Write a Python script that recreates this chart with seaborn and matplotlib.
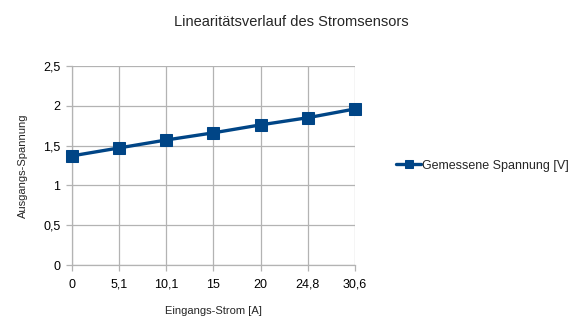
import matplotlib
matplotlib.use("Agg")
import matplotlib.pyplot as plt
import seaborn as sns
import pandas as pd

# Measured current (category labels) and output voltage
strom_labels = ["0", "5,1", "10,1", "15", "20", "24,8", "30,6"]
spannung = [1.37, 1.47, 1.57, 1.66, 1.76, 1.85, 1.96]
y_ticks = [0, 0.5, 1, 1.5, 2, 2.5]
y_tick_labels = ["0", "0,5", "1", "1,5", "2", "2,5"]
series_name = "Gemessene Spannung [V]"

sns.set_style("white")
plt.rcParams["font.family"] = ["Liberation Sans", "DejaVu Sans"]

df = pd.DataFrame({"Strom": strom_labels, "Spannung": spannung})

fig = plt.figure(figsize=(5.82, 3.33), dpi=100)
ax = fig.add_axes([0.123, 0.204, 0.487, 0.598])

blue = "#004586"
sns.lineplot(data=df, x="Strom", y="Spannung", ax=ax, color=blue,
             marker="s", markersize=8.5, markeredgecolor=blue,
             linewidth=2.4, label=series_name, sort=False, zorder=3)
for ln in ax.lines:
    ln.set_clip_on(False)

ax.set_xlim(0, len(strom_labels) - 1)
ax.set_ylim(0, 2.5)
ax.set_yticks(y_ticks)
ax.set_yticklabels(y_tick_labels)

ax.grid(True, color="#b3b3b3", linewidth=0.9)
ax.set_axisbelow(True)
for side in ["top", "right"]:
    ax.spines[side].set_visible(False)
for side in ["left", "bottom"]:
    ax.spines[side].set_color("#b3b3b3")
    ax.spines[side].set_linewidth(0.9)

ax.tick_params(axis="both", which="major", length=4, width=0.9,
               color="#b3b3b3", labelsize=9, labelcolor="#000000",
               direction="out", bottom=True, left=True)
ax.tick_params(axis="x", pad=6)
ax.tick_params(axis="y", pad=4)

ax.set_xlabel("Eingangs-Strom [A]", fontsize=8, labelpad=11)
ax.set_ylabel("Ausgangs-Spannung", fontsize=8, labelpad=11)

fig.suptitle("Linearitätsverlauf des Stromsensors", fontsize=10.5, y=0.955)

leg = ax.legend(loc="center left", bbox_to_anchor=(1.105, 0.5), frameon=False,
                fontsize=9, handlelength=2.0, handletextpad=0.1,
                markerscale=0.75)

fig.savefig("out.png", dpi=100)
